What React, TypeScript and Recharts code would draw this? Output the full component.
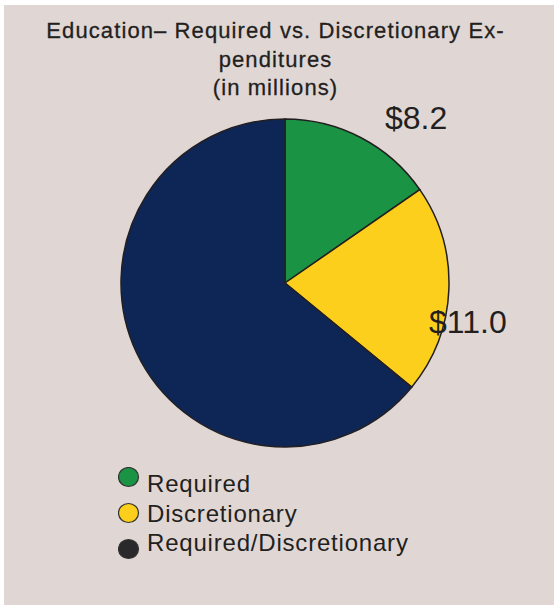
import { Legend, Pie, PieChart, Cell } from "recharts";

const CATEGORIES = ["Required", "Discretionary", "Required/Discretionary"];
const VALUES = [8.2, 11.0, 34.2];
const LABELED = [true, true, false];

const SLICE_COLORS = ["#1b9344", "#fccf1c", "#0e2656"];
const SWATCH_COLORS = ["#1b9344", "#fccf1c", "#29282a"];
const LABEL_OFFSETS = [
  { dx: 100, dy: -154 },
  { dx: 144, dy: 50 },
  { dx: 0, dy: 0 },
];

const TEXT = "#231f20";
const FONT = '"Liberation Sans", Arial, sans-serif';

const data = CATEGORIES.map((name, i) => ({ name, value: VALUES[i] }));

function renderLabel(props: any) {
  const { cx, cy, index, value } = props;
  if (!LABELED[index]) return null;
  const o = LABEL_OFFSETS[index];
  return (
    <text
      x={cx + o.dx}
      y={cy + o.dy}
      fill={TEXT}
      fontSize={32}
      fontFamily={FONT}
      textAnchor="start"
    >
      ${Number(value).toFixed(1)}
    </text>
  );
}

function renderLegend() {
  return (
    <svg width={320} height={110}>
      {CATEGORIES.map((name, i) => (
        <g key={name}>
          <ellipse
            cx={10.5}
            cy={[10, 46, 82][i]}
            rx={10}
            ry={9.5}
            fill={SWATCH_COLORS[i]}
            stroke="#333"
            strokeWidth={1.2}
          />
          <text
            x={29}
            y={[25, 54.5, 84][i]}
            fill={TEXT}
            fontSize={24}
            fontFamily={FONT}
            letterSpacing={0.8}
          >
            {name}
          </text>
        </g>
      ))}
    </svg>
  );
}

export default function App() {
  return (
    <div
      style={{
        position: "absolute",
        left: 0,
        top: 0,
        width: 554,
        height: 605,
        background: "#ffffff",
        overflow: "hidden",
      }}
    >
      <div
        style={{
          position: "absolute",
          left: 4,
          top: 5,
          width: 550,
          height: 600,
          background: "#e0d7d5",
        }}
      />
      <div
        style={{
          position: "absolute",
          left: 0,
          top: 0,
          width: 554,
          height: 605,
        }}
      >
        <PieChart
          width={554}
          height={605}
          margin={{ top: 0, right: 0, bottom: 0, left: 0 }}
        >
          <Pie
            data={data}
            dataKey="value"
            nameKey="name"
            cx={285}
            cy={283}
            outerRadius={164}
            startAngle={90}
            endAngle={-270}
            stroke={TEXT}
            strokeWidth={1.5}
            label={renderLabel}
            labelLine={false}
            isAnimationActive={false}
          >
            {data.map((d, i) => (
              <Cell key={d.name} fill={SLICE_COLORS[i]} />
            ))}
          </Pie>
          <Legend
            content={renderLegend}
            wrapperStyle={{ left: 118, top: 467, width: 320, height: 110 }}
          />
        </PieChart>
      </div>
      <div
        style={{
          position: "absolute",
          left: 0,
          top: 17,
          width: 551,
          textAlign: "center",
          fontFamily: FONT,
          fontSize: 22,
          lineHeight: "28.5px",
          letterSpacing: 1.1,
          color: TEXT,
          WebkitTextStroke: "0.3px #231f20",
        }}
      >
        Education– Required vs. Discretionary Ex-
        <br />
        penditures
        <br />
        (in millions)
      </div>
    </div>
  );
}
